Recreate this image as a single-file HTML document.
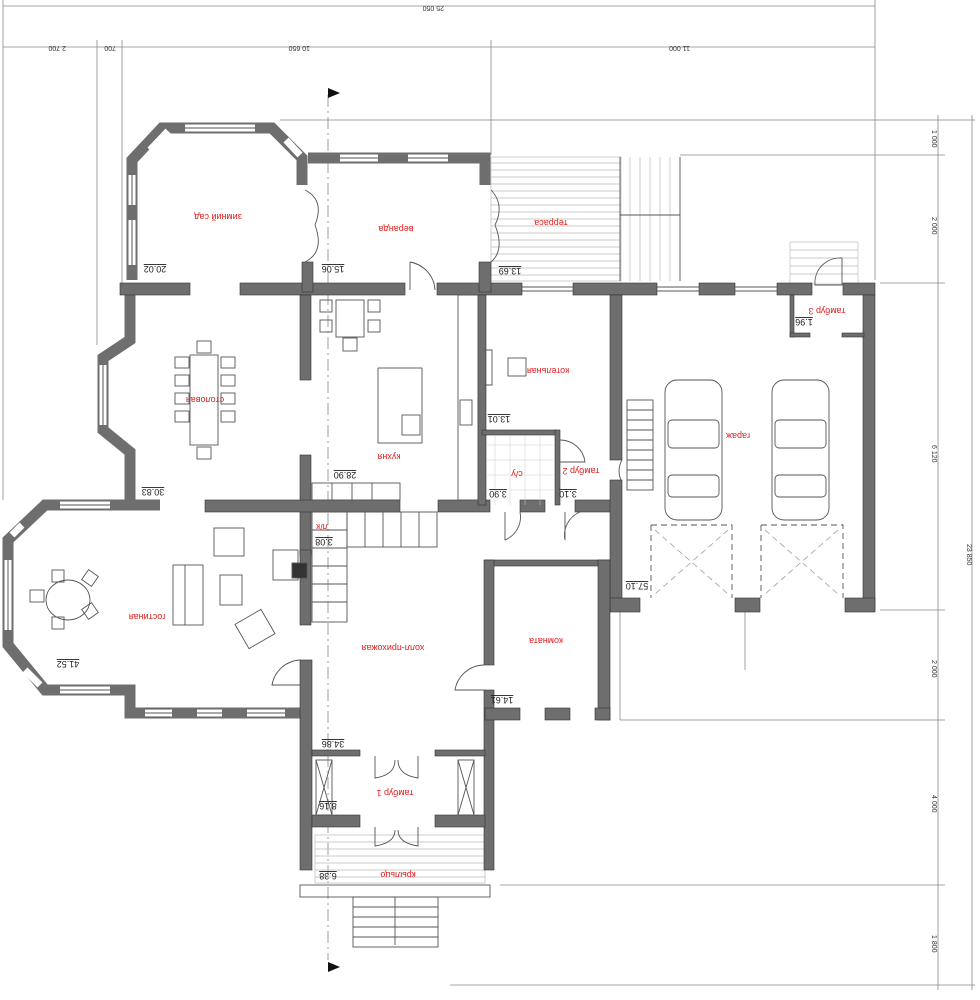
<!DOCTYPE html>
<html><head><meta charset="utf-8"><style>
html,body{margin:0;padding:0;background:#fff;}
svg{display:block;}
text{font-family:"Liberation Sans","DejaVu Sans",sans-serif;}
.w{fill:#6e6e6e;stroke:#333;stroke-width:0.6}
.wl{fill:none;stroke:#6e6e6e;stroke-width:11;stroke-linejoin:miter}
.win{stroke:#fff;stroke-width:7}
.wt{stroke:#555;stroke-width:1}
.d{fill:none;stroke:#888;stroke-width:0.8}
.f{fill:none;stroke:#555;stroke-width:0.9}
.lb{fill:#e02020;font-size:9px}
.ar{fill:#222;font-size:9px;text-decoration:underline}
.dm{fill:#333;font-size:7px}
</style></head><body>
<svg width="980" height="1000" viewBox="0 0 980 1000" xmlns="http://www.w3.org/2000/svg">
<!-- dimension lines -->
<g class="d">
<line x1="3" y1="6" x2="875" y2="6"/><line x1="3" y1="47" x2="875" y2="47"/>
<line x1="3" y1="0" x2="3" y2="500"/><line x1="97" y1="40" x2="97" y2="345"/><line x1="122" y1="40" x2="122" y2="285"/>
<line x1="491" y1="40" x2="491" y2="155"/><line x1="875" y1="0" x2="875" y2="280"/>
<line x1="280" y1="120" x2="975" y2="120"/><line x1="680" y1="155" x2="945" y2="155"/>
<line x1="880" y1="283" x2="945" y2="283"/><line x1="880" y1="610" x2="945" y2="610"/>
<line x1="620" y1="720" x2="945" y2="720"/><line x1="500" y1="885" x2="945" y2="885"/>
<line x1="450" y1="985" x2="975" y2="985"/>
<line x1="938" y1="115" x2="938" y2="990"/><line x1="972" y1="115" x2="972" y2="990"/>
<line x1="620" y1="612" x2="620" y2="720"/><line x1="745" y1="612" x2="745" y2="670"/>
<line x1="328" y1="95" x2="328" y2="960" stroke-dasharray="12,4,2,4"/>
</g>
<g class="dm">
<text x="430" y="10" transform="rotate(180 437 8)">25 050</text>
<text x="50" y="50" transform="rotate(180 58 48)">2 700</text>
<text x="104" y="50" transform="rotate(180 110 48)">700</text>
<text x="290" y="50" transform="rotate(180 300 48)">10 650</text>
<text x="670" y="50" transform="rotate(180 680 48)">11 000</text>
<text x="930" y="138" transform="rotate(90 935 135)">1 000</text>
<text x="930" y="225" transform="rotate(90 935 222)">2 000</text>
<text x="930" y="453" transform="rotate(90 935 450)">6 120</text>
<text x="930" y="668" transform="rotate(90 935 665)">2 000</text>
<text x="930" y="803" transform="rotate(90 935 800)">4 000</text>
<text x="930" y="943" transform="rotate(90 935 940)">1 800</text>
<text x="964" y="553" transform="rotate(90 970 550)">23 850</text>
</g>
<polygon points="328,88 340,93 328,98" fill="#111"/>
<polygon points="328,962 340,967 328,972" fill="#111"/>

<!-- terrace hatching -->
<g stroke="#bbb" stroke-width="0.7">
<rect x="491" y="157" width="130" height="124" fill="none"/>
<path d="M491 163H620M491 170H620M491 177H620M491 184H620M491 191H620M491 198H620M491 205H620M491 212H620M491 219H620M491 226H620M491 233H620M491 240H620M491 247H620M491 254H620M491 261H620M491 268H620M491 275H620"/>
<path d="M630 157V281M640 157V281M650 157V281M660 157V281M670 157V281"/>
<rect x="315" y="835" width="170" height="48" fill="none"/>
<path d="M315 842H485M315 849H485M315 856H485M315 863H485M315 870H485M315 877H485"/>
<rect x="790" y="242" width="68" height="42" fill="none"/>
<path d="M790 250H858M790 258H858M790 266H858M790 274H858"/>
</g>
<g class="f">
<rect x="300" y="885" width="190" height="12"/>
<rect x="353" y="897" width="85" height="50"/>
<path d="M353 907H438M353 917H438M353 927H438M353 937H438M395 897V945"/>
<path d="M620 157V281M680 157V281M620 215H680"/>
</g>

<!-- walls as strokes -->
<path class="wl" d="M132 280V160L162 128H272L302 158V185"/>
<path class="wl" d="M130 285V340L103 358V430L130 452V505H160"/>
<path class="wl" d="M145 505H45L8 540V645L45 690H130V713H300"/>
<path class="wl" d="M308 158H485V185"/>
<!-- windows on outlines -->
<g class="win"><path d="M132 220V265M132 175V205M185 128H255M168 131L150 150M286 140L300 155M103 365V425M60 505H110M22 525L12 535M8 560V630M25 670L40 685M60 690H110M145 713H172M197 713H222M247 713H285M340 158H378M408 158H448"/></g>
<g class="wt"><path d="M132 220V265M132 175V205M185 128H255M103 365V425M60 505H110M8 560V630M60 690H110M145 713H172M197 713H222M247 713H285M340 158H378M408 158H448"/></g>

<g class="w">
<!-- horizontal at 290 -->
<rect x="120" y="283" width="70" height="12"/><rect x="240" y="283" width="165" height="12"/>
<rect x="437" y="283" width="85" height="12"/><rect x="573" y="283" width="84" height="12"/>
<rect x="699" y="283" width="36" height="12"/><rect x="777" y="283" width="35" height="12"/><rect x="843" y="283" width="32" height="12"/>
<!-- veranda verticals -->
<rect x="302" y="262" width="11" height="30"/><rect x="479" y="262" width="12" height="30"/>
<!-- x=300 vertical -->
<rect x="300" y="295" width="11" height="85"/><rect x="300" y="455" width="11" height="100"/>
<rect x="300" y="550" width="11" height="75"/>
<rect x="300" y="660" width="12" height="210"/>
<!-- mid horizontal y=505 -->
<rect x="205" y="500" width="195" height="12"/><rect x="438" y="500" width="52" height="12"/>
<rect x="520" y="500" width="25" height="12"/><rect x="575" y="500" width="37" height="12"/>
<!-- 485 vertical -->
<rect x="478" y="295" width="8" height="210"/>
<!-- utility walls -->
<rect x="482" y="430" width="75" height="5"/><rect x="555" y="430" width="5" height="75"/>
<!-- garage -->
<rect x="610" y="295" width="12" height="165"/><rect x="610" y="480" width="12" height="130"/>
<rect x="863" y="295" width="12" height="315"/>
<rect x="610" y="598" width="30" height="14"/><rect x="735" y="598" width="25" height="14"/><rect x="845" y="598" width="30" height="14"/>
<rect x="790" y="295" width="4" height="42"/><rect x="790" y="333" width="20" height="4"/><rect x="842" y="333" width="22" height="4"/>
<!-- комната -->
<rect x="485" y="560" width="125" height="6"/>
<rect x="484" y="560" width="10" height="105"/><rect x="484" y="690" width="10" height="180"/>
<rect x="598" y="560" width="12" height="160"/>
<rect x="485" y="708" width="35" height="12"/><rect x="545" y="708" width="25" height="12"/><rect x="595" y="708" width="15" height="12"/>
<!-- tambour -->
<rect x="312" y="750" width="48" height="6"/><rect x="435" y="750" width="50" height="6"/>
<rect x="312" y="815" width="48" height="12"/><rect x="435" y="815" width="50" height="12"/>
</g>
<!-- garage top/front windows -->
<g class="wt"><path d="M522 287H573M522 291H573M657 287H699M657 291H699M735 287H777M735 291H777M170 709H145M170 717H145"/></g>

<!-- furniture -->
<g class="f">
<rect x="190" y="355" width="28" height="90"/>
<rect x="175" y="357" width="14" height="11"/><rect x="175" y="375" width="14" height="11"/><rect x="175" y="393" width="14" height="11"/><rect x="175" y="411" width="14" height="11"/>
<rect x="221" y="357" width="14" height="11"/><rect x="221" y="375" width="14" height="11"/><rect x="221" y="393" width="14" height="11"/><rect x="221" y="411" width="14" height="11"/>
<rect x="197" y="341" width="14" height="12"/><rect x="197" y="447" width="14" height="12"/>
<ellipse cx="68" cy="600" rx="22" ry="20"/>
<rect x="30" y="590" width="14" height="12"/><rect x="52" y="570" width="12" height="12"/><rect x="52" y="617" width="12" height="12"/>
<rect x="84" y="572" width="12" height="12" transform="rotate(35 90 578)"/><rect x="84" y="605" width="12" height="12" transform="rotate(-35 90 611)"/>
<rect x="173" y="565" width="30" height="60"/><line x1="185" y1="565" x2="185" y2="625"/>
<rect x="214" y="528" width="30" height="28"/><rect x="220" y="575" width="22" height="30"/>
<rect x="240" y="615" width="30" height="28" transform="rotate(-30 255 629)"/>
<rect x="273" y="550" width="25" height="30"/>
<rect x="320" y="300" width="12" height="12"/><rect x="368" y="300" width="12" height="12"/><rect x="320" y="320" width="12" height="12"/><rect x="368" y="320" width="12" height="12"/>
<rect x="336" y="300" width="28" height="37"/><rect x="343" y="338" width="14" height="13"/>
<rect x="378" y="368" width="44" height="75"/><rect x="402" y="415" width="18" height="20"/>
<rect x="458" y="295" width="20" height="205"/><rect x="460" y="400" width="12" height="25"/>
<rect x="312" y="483" width="88" height="17"/><path d="M332 483V500M352 483V500M372 483V500"/>
<rect x="508" y="358" width="18" height="18"/>
<rect x="312" y="512" width="35" height="110"/><path d="M312 530H347M312 548H347M312 566H347M312 584H347M312 602H347"/>
<rect x="347" y="512" width="90" height="35"/><path d="M365 512V547M383 512V547M401 512V547M419 512V547"/>
<path d="M410 262A30 30 0 0 1 435 290M410 262V290"/>
<path d="M300 660A30 30 0 0 0 272 685H300"/>
<path d="M484 665A30 30 0 0 0 455 690H484"/>
<path d="M305 190Q325 200 315 225M305 262Q325 252 315 225M491 190Q505 205 495 225M491 262Q505 250 495 225"/>
<path d="M560 440A25 25 0 0 1 585 462H560M505 512V540A25 25 0 0 0 520 512M565 512V540A25 25 0 0 1 580 512"/>
<path d="M622 460A22 22 0 0 0 622 482"/>
<path d="M842 258A25 25 0 0 0 815 285H842V258"/>
<rect x="627" y="400" width="26" height="90"/><path d="M627 410H653M627 420H653M627 430H653M627 440H653M627 450H653M627 460H653M627 470H653M627 480H653"/>
<rect x="665" y="380" width="57" height="140" rx="12"/><rect x="668" y="420" width="51" height="28" rx="4"/><rect x="668" y="475" width="51" height="22" rx="4"/>
<rect x="772" y="380" width="57" height="140" rx="12"/><rect x="775" y="420" width="51" height="28" rx="4"/><rect x="775" y="475" width="51" height="22" rx="4"/>
<path d="M651 525H732V598M651 525V598M761 525H843V598M761 525V598" stroke-dasharray="6,4"/>
<path d="M655 530L728 594M728 530L655 594M765 530L838 594M838 530L765 594" stroke-dasharray="6,4" stroke="#aaa"/>
<rect x="316" y="760" width="16" height="55"/><path d="M316 760L332 815M332 760L316 815"/>
<rect x="458" y="760" width="16" height="55"/><path d="M458 760L474 815M474 760L458 815"/>
<path d="M375 756V778Q395 775 395 760M418 756V778Q398 775 398 760"/>
<path d="M375 827V846Q395 843 395 830M418 827V846Q398 843 398 830"/>
<rect x="292" y="563" width="15" height="15" fill="#333"/>
<path d="M484 350H492V385H484"/>
</g>
<!-- tiles in су -->
<g stroke="#ccc" stroke-width="0.5"><path d="M486 445H553M486 460H553M486 475H553M486 490H553M495 436V505M510 436V505M525 436V505M540 436V505"/></g>

<!-- labels (rotated 180) -->
<g class="lb">
<text x="218" y="214" transform="rotate(180 218 214)" text-anchor="middle">зимний сад</text>
<text x="396" y="226" transform="rotate(180 396 226)" text-anchor="middle">веранда</text>
<text x="551" y="220" transform="rotate(180 551 220)" text-anchor="middle">терраса</text>
<text x="827" y="308" transform="rotate(180 827 308)" text-anchor="middle">тамбур 3</text>
<text x="548" y="368" transform="rotate(180 548 368)" text-anchor="middle">котельная</text>
<text x="205" y="397" transform="rotate(180 205 397)" text-anchor="middle">столовая</text>
<text x="389" y="454" transform="rotate(180 389 454)" text-anchor="middle">кухня</text>
<text x="517" y="471" transform="rotate(180 517 471)" text-anchor="middle">с/у</text>
<text x="581" y="468" transform="rotate(180 581 468)" text-anchor="middle">тамбур 2</text>
<text x="738" y="433" transform="rotate(180 738 433)" text-anchor="middle">гараж</text>
<text x="322" y="524" transform="rotate(180 322 524)" text-anchor="middle">л/к</text>
<text x="147" y="614" transform="rotate(180 147 614)" text-anchor="middle">гостиная</text>
<text x="393" y="645" transform="rotate(180 393 645)" text-anchor="middle">холл-прихожая</text>
<text x="546" y="638" transform="rotate(180 546 638)" text-anchor="middle">комната</text>
<text x="395" y="790" transform="rotate(180 395 790)" text-anchor="middle">тамбур 1</text>
<text x="398" y="872" transform="rotate(180 398 872)" text-anchor="middle">крыльцо</text>
</g>
<g class="ar">
<text x="155" y="270" transform="rotate(180 155 268)" text-anchor="middle">20.02</text>
<text x="333" y="270" transform="rotate(180 333 268)" text-anchor="middle">15.06</text>
<text x="510" y="272" transform="rotate(180 510 270)" text-anchor="middle">13.69</text>
<text x="804" y="323" transform="rotate(180 804 321)" text-anchor="middle">1.96</text>
<text x="499" y="420" transform="rotate(180 499 418)" text-anchor="middle">13.01</text>
<text x="345" y="476" transform="rotate(180 345 474)" text-anchor="middle">28.90</text>
<text x="498" y="495" transform="rotate(180 498 493)" text-anchor="middle">3.90</text>
<text x="568" y="495" transform="rotate(180 568 493)" text-anchor="middle">3.10</text>
<text x="153" y="493" transform="rotate(180 153 491)" text-anchor="middle">30.83</text>
<text x="324" y="543" transform="rotate(180 324 541)" text-anchor="middle">3.08</text>
<text x="637" y="587" transform="rotate(180 637 585)" text-anchor="middle">57.10</text>
<text x="68" y="665" transform="rotate(180 68 663)" text-anchor="middle">41.52</text>
<text x="502" y="701" transform="rotate(180 502 699)" text-anchor="middle">14.61</text>
<text x="333" y="745" transform="rotate(180 333 743)" text-anchor="middle">34.86</text>
<text x="328" y="807" transform="rotate(180 328 805)" text-anchor="middle">8.16</text>
<text x="328" y="877" transform="rotate(180 328 875)" text-anchor="middle">6.38</text>
</g>
</svg>
</body></html>
